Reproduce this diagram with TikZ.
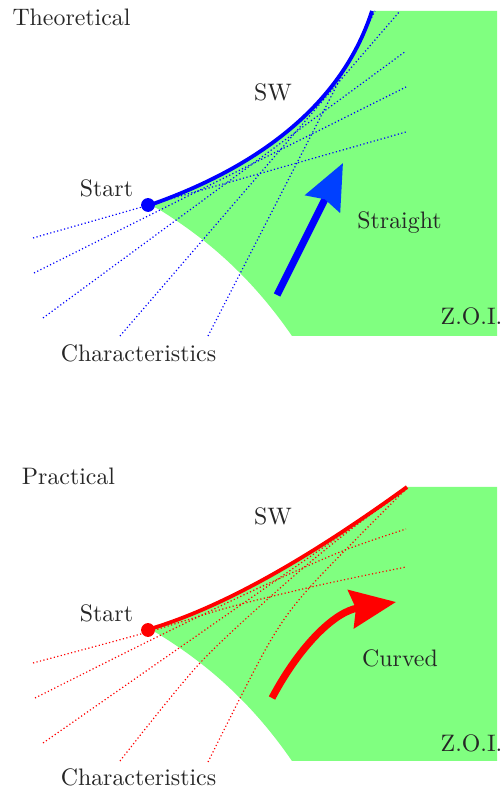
\documentclass[tikz,border=0pt]{standalone}
\usetikzlibrary{arrows.meta}
\definecolor{zoi}{RGB}{128,255,128}
\definecolor{headblue}{RGB}{0,64,255}
\tikzset{
  lbl/.style={anchor=base, inner sep=0pt, text=black!85},
  charB/.style={blue, densely dotted, line width=0.5pt},
  charR/.style={red, densely dotted, line width=0.5pt},
  swB/.style={blue, line width=1.6pt},
  swR/.style={red, line width=1.6pt},
  dotmark/.style={circle, inner sep=0pt, minimum size=5.8pt},
  bigarrow/.style={line width=3pt},
}
\begin{document}
\begin{tikzpicture}[x=0.4193pt,y=0.4193pt]
\useasboundingbox (0,0) rectangle (503,791);
% ---------------- Theoretical panel ----------------
\fill[zoi] (150,586) .. controls (250,621) and (340,681) .. (372,780) -- (497,780) -- (497,455) -- (292,455)
  .. controls (250,516) and (205,553) .. (160,581) -- cycle;
\draw[charB] (33,553) -- (406,659);
\draw[charB] (34,518) -- (406,704);
\draw[charB] (43,473) -- (406,740);
\draw[charB] (120,455) -- (400,780);
\draw[charB] (208,455) -- (375,780);
\draw[swB] (150,586) .. controls (250,621) and (340,681) .. (372,780);
\node[dotmark, fill=blue] (startA) at (148,586) {};
\coordinate (arrAs) at (277,496);
\coordinate (arrAe) at (343,628);
\draw[bigarrow, blue, -{Stealth[length=19pt,width=16pt,inset=2pt,color=headblue]}] (arrAs) -- (arrAe);
\node[lbl] (theo) at (71.5,765) {Theoretical};
\node[lbl] (swA) at (273,690) {SW};
\node[lbl] (startAl) at (106.5,594) {Start};
\node[lbl] (straight) at (399.5,562) {Straight};
\node[lbl] (zoiA) at (471.5,466) {Z.O.I.};
\node[lbl] (charA) at (138.5,429) {Characteristics};
% ---------------- Practical panel ----------------
\fill[zoi] (150,162) .. controls (230,186) and (320,241) .. (407,304) -- (497,304) -- (497,30) -- (292,30)
  .. controls (250,91) and (205,128) .. (160,156) -- cycle;
\draw[charR] plot[smooth] coordinates {(33,128) (148,159) (230,184) (320,206) (406,224)};
\draw[charR] plot[smooth] coordinates {(35,93) (157,154) (250,199) (340,239) (406,262)};
\draw[charR] (43,48) -- (407,302);
\draw[charR] plot[smooth] coordinates {(120,30) (200,128) (287,209) (350,261) (407,303)};
\draw[charR] plot[smooth] coordinates {(208,29) (268,146) (310,204) (407,303)};
\draw[swR] (150,162) .. controls (230,186) and (320,241) .. (407,304);
\node[dotmark, fill=red] (startB) at (148,161) {};
\coordinate (arrBs) at (272,93);
\coordinate (arrBe) at (396,189);
\draw[bigarrow, red, -{Stealth[length=19pt,width=16pt,inset=2pt]}] (arrBs) to[out=62,in=189] (arrBe);
\node[lbl] (prac) at (68.5,306) {Practical};
\node[lbl] (swB) at (273,266) {SW};
\node[lbl] (startBl) at (106.5,169) {Start};
\node[lbl] (curved) at (400,124) {Curved};
\node[lbl] (zoiB) at (471.5,39) {Z.O.I.};
\node[lbl] (charB) at (138.5,5) {Characteristics};
\end{tikzpicture}
\end{document}
